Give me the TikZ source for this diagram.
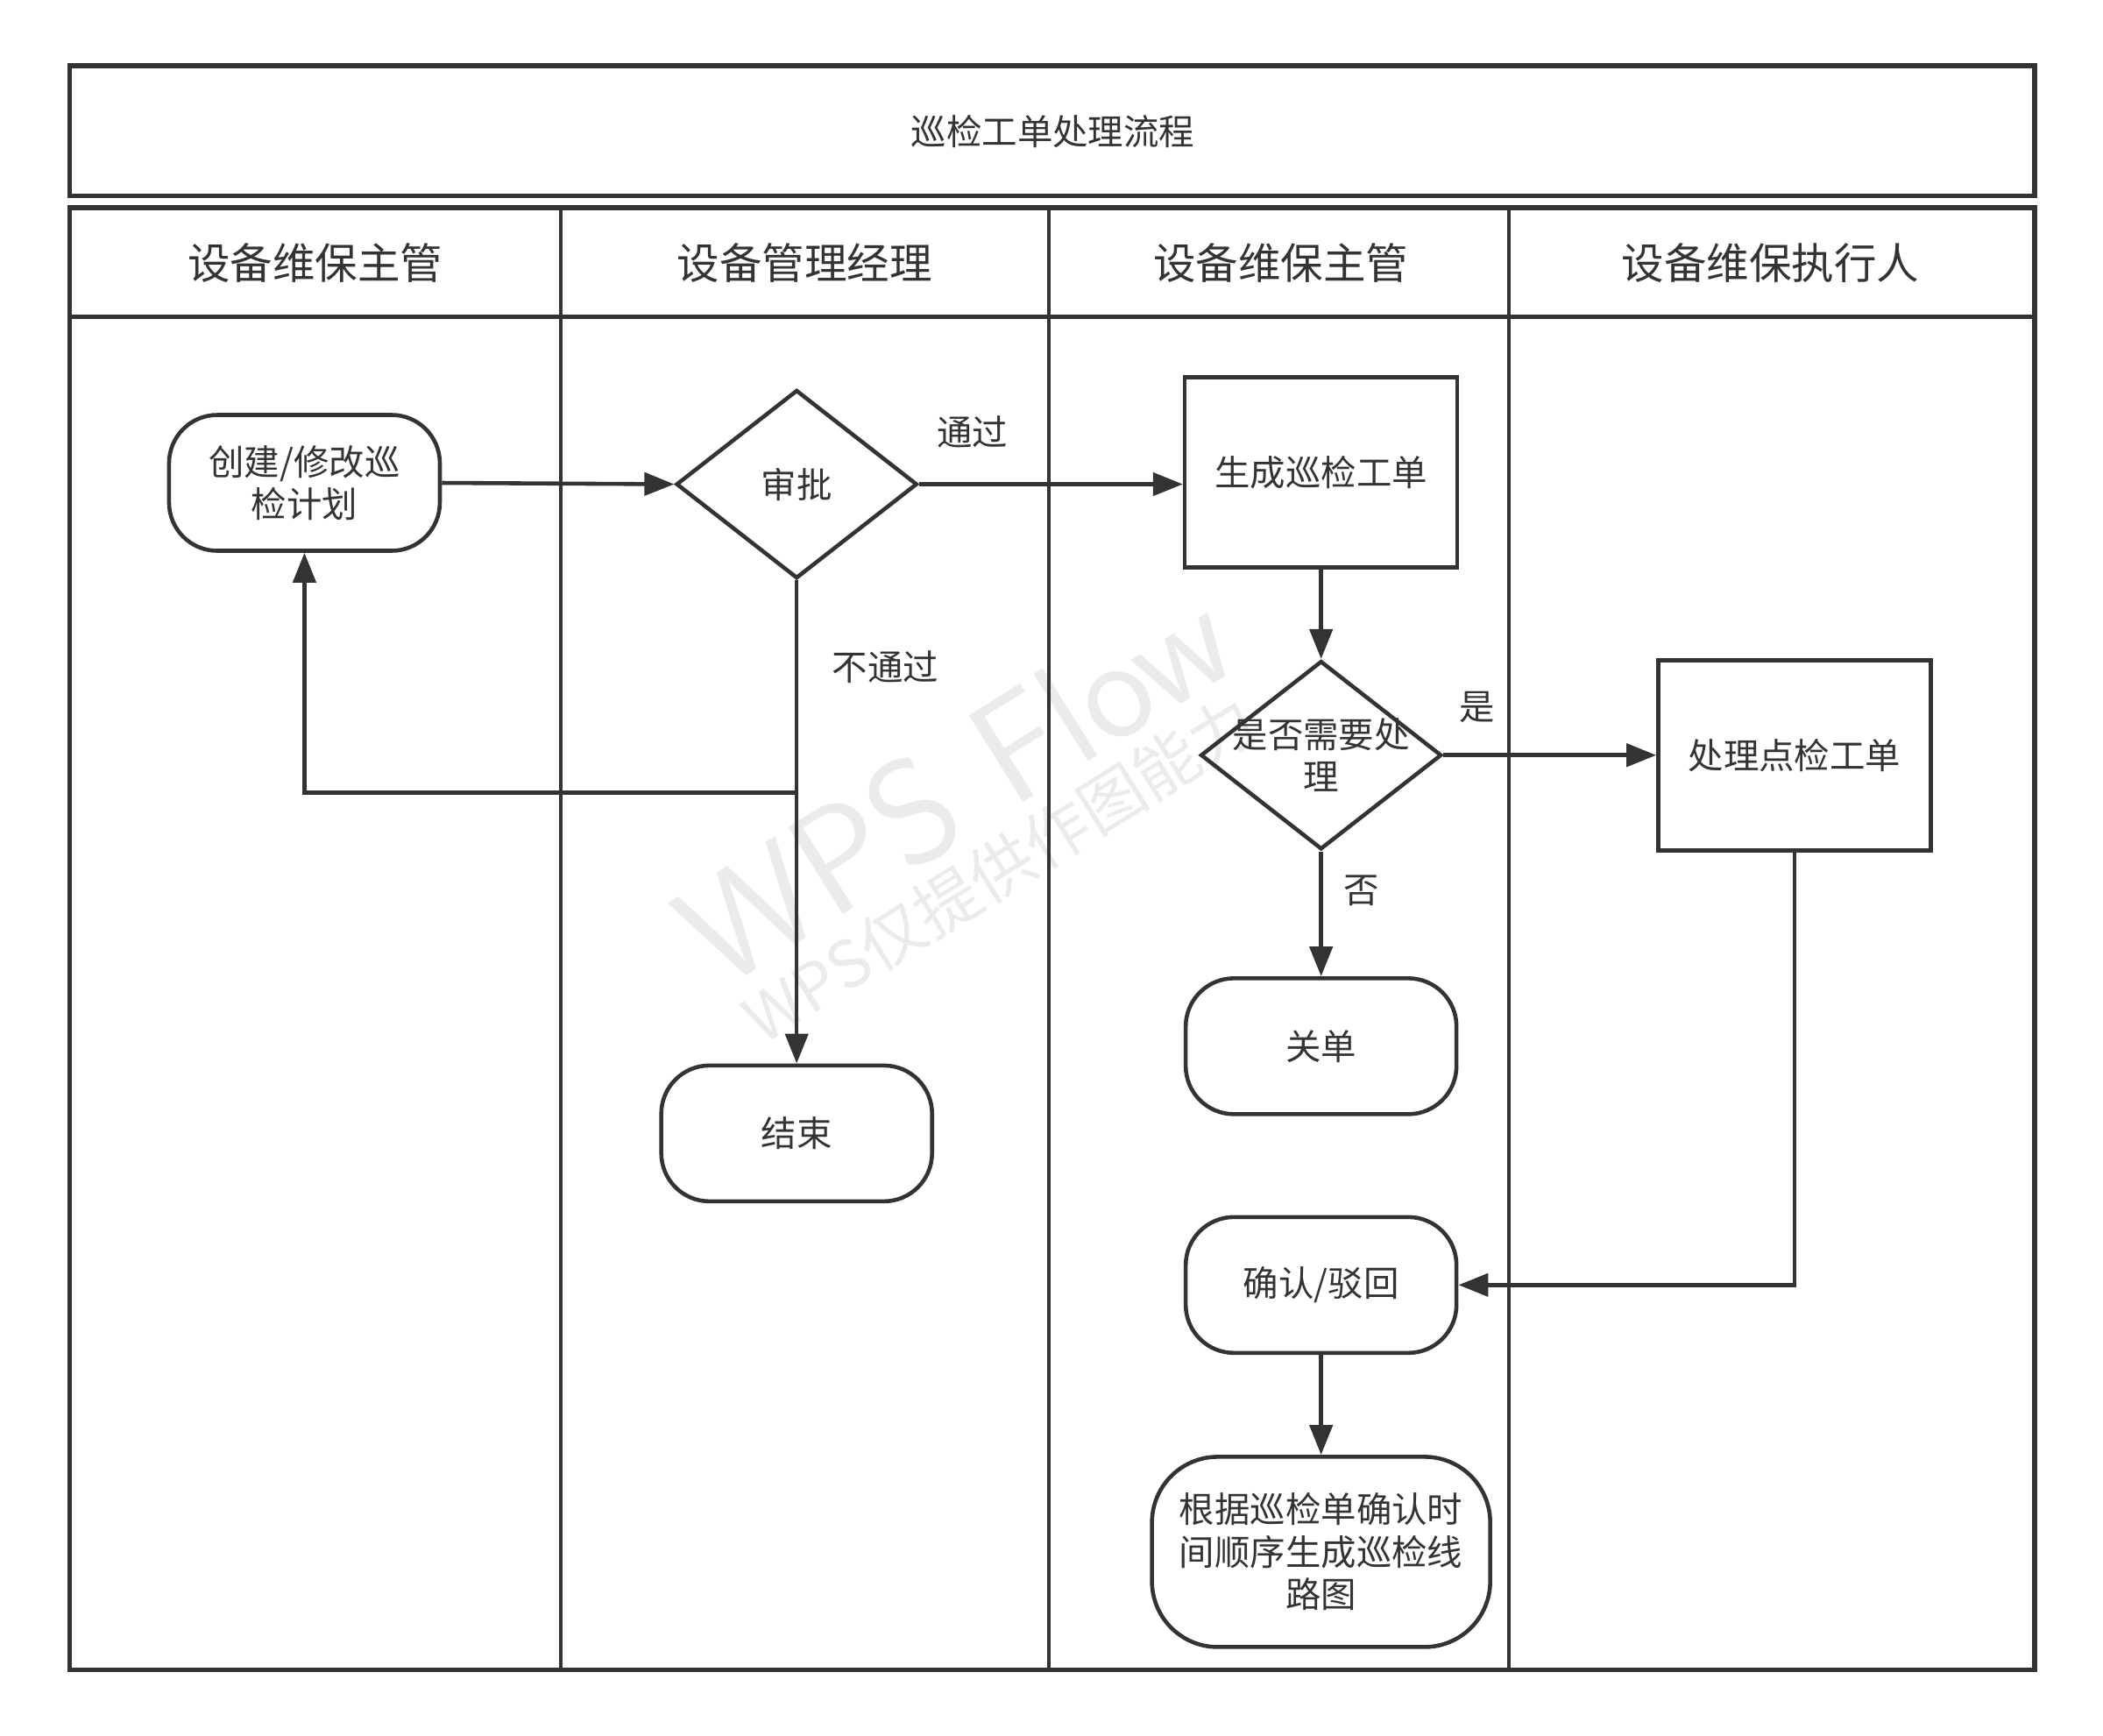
\documentclass[tikz,border=0pt]{standalone}
\usepackage{fontspec}
\setmainfont{Noto Sans CJK SC}
\usetikzlibrary{shapes.geometric,arrows.meta}
\definecolor{ink}{HTML}{333333}

\tikzset{
    frame/.style={draw=ink, line width=1.6pt},
    lane/.style={draw=ink, line width=1.3pt},
    txt/.style={text=ink, font=\fontsize{11.5}{13.8}\selectfont, align=center},
    head/.style={text=ink, font=\fontsize{13.8}{16}\selectfont},
    term/.style={txt, draw=ink, line width=1.3pt, rounded corners=0.55cm, minimum width=3.09cm, minimum height=1.55cm, inner sep=0pt},
    proc/.style={txt, draw=ink, line width=1.3pt, minimum width=3.11cm, minimum height=2.17cm, inner sep=0pt},
    decision/.style={diamond, draw=ink, line width=1.3pt, minimum width=2.75cm, minimum height=2.15cm, inner sep=0pt},
    flow/.style={draw=ink, line width=1.3pt, -{Triangle[length=0.34cm,width=0.26cm]}},
    edgelabel/.style={txt, inner sep=1pt}
}

\begin{document}
\begin{tikzpicture}[x=0.015306cm, y=-0.015306cm]
        \useasboundingbox (0,0) rectangle (1568,1294);
        %watermark
            \node[rotate=32, text=black!8, font=\fontsize{48}{48}\selectfont\sffamily] (wm) at (712,585) {WPS Flow};
            \node[rotate=32, text=black!8, font=\fontsize{21}{21}\selectfont] (wm2) at (745,648) {WPS仅提供作图能力};
        %title
            \draw[frame] (52,49) rectangle (1517,146);
            \node[txt] (title) at (785,98) {巡检工单处理流程};
        % lanes
            \draw[frame] (52,155) rectangle (1517,1245);
            \draw[lane] (52,236) -- (1517,236);
            \draw[lane] (418,155) -- (418,1245);
            \draw[lane] (782,155) -- (782,1245);
            \draw[lane] (1125,155) -- (1125,1245);
            \node[head] (h1) at (235,196) {设备维保主管};
            \node[head] (h2) at (600,196) {设备管理经理};
            \node[head] (h3) at (955,196) {设备维保主管};
            \node[head] (h4) at (1320,196) {设备维保执行人};
        %nodes
            \node[term] (plan) at (227,360) {创建/修改巡\\检计划};
            \node[decision, label={[txt]center:审批}] (appr) at (594,361) {};
            \node[proc] (gen) at (985,352) {生成巡检工单};
            \node[decision, label={[txt]center:是否需要处\\理}] (chk) at (985,563) {};
            \node[proc] (work) at (1338,563) {处理点检工单};
            \node[term] (close) at (985,780) {关单};
            \node[term] (stop) at (594,845) {结束};
            \node[term] (conf) at (985,958) {确认/驳回};
            \node[term, minimum width=3.86cm, minimum height=2.17cm, rounded corners=0.75cm] (route) at (985,1157) {根据巡检单确认时\\间顺序生成巡检线\\路图};
        % labels
            \node[edgelabel] (pass) at (725,322) {通过};
            \node[edgelabel] (fail) at (660,497) {不通过};
            \node[edgelabel] (yes) at (1101,527) {是};
            \node[edgelabel] (no) at (1015,664) {否};
        % connectors
            \coordinate (back) at (594,591);
            \draw[flow] (plan.east) -- (appr.west);
            \draw[flow] (appr.east) -- (appr.east -| gen.west);
            \draw[flow] (appr.south) -- (stop.north);
            \draw[flow] (back) -| (plan.south);
            \draw[flow] (gen.south) -- (chk.north);
            \draw[flow] (chk.east) -- (work.west);
            \draw[flow] (chk.south) -- (close.north);
            \draw[flow] (work.south) |- (conf.east);
            \draw[flow] (conf.south) -- (route.north);
    \end{tikzpicture}
\end{document}
